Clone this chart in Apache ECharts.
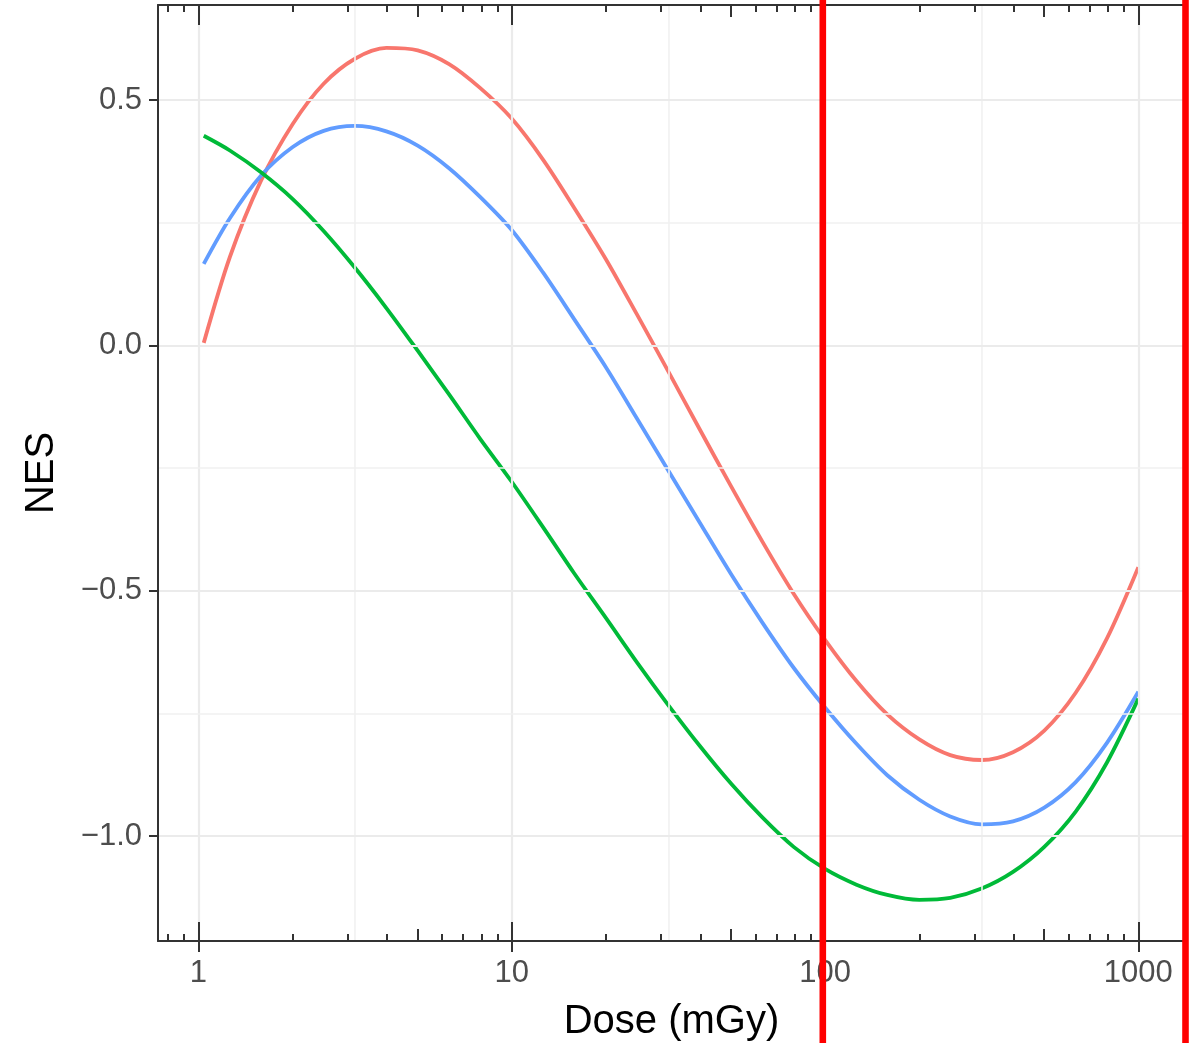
<!DOCTYPE html>
<html>
<head>
<meta charset="utf-8">
<script src="https://cdn.jsdelivr.net/npm/echarts@6/dist/echarts.min.js"></script>
<style>
  html, body { margin: 0; padding: 0; background: #ffffff; }
  #chart { width: 1199px; height: 1043px; }
</style>
</head>
<body>
<div id="chart"></div>
<script>
// ---- data ----
const doseValues = [1.04, 1.26, 1.58, 2.0, 2.51, 3.16, 3.98, 5.01, 6.31, 7.94, 10, 12.6, 15.8, 20.0, 25.1, 31.6, 39.8, 50.1, 63.1, 79.4, 100, 126, 158, 200, 251, 316, 398, 501, 631, 794, 1000];
const redNES   = [0.005, 0.180, 0.334, 0.451, 0.533, 0.584, 0.606, 0.601, 0.573, 0.524, 0.462, 0.378, 0.281, 0.175, 0.063, -0.053, -0.171, -0.287, -0.400, -0.506, -0.600, -0.684, -0.752, -0.803, -0.835, -0.845, -0.829, -0.785, -0.708, -0.597, -0.452];
const blueNES  = [0.166, 0.259, 0.345, 0.404, 0.437, 0.447, 0.436, 0.407, 0.361, 0.302, 0.235, 0.148, 0.054, -0.045, -0.149, -0.255, -0.361, -0.466, -0.565, -0.657, -0.738, -0.812, -0.876, -0.926, -0.960, -0.976, -0.970, -0.942, -0.890, -0.810, -0.706];
const greenNES = [0.427, 0.397, 0.353, 0.298, 0.233, 0.158, 0.076, -0.011, -0.100, -0.191, -0.278, -0.371, -0.464, -0.556, -0.646, -0.733, -0.816, -0.893, -0.962, -1.022, -1.067, -1.099, -1.120, -1.130, -1.126, -1.107, -1.073, -1.022, -0.950, -0.850, -0.720];

const xTickDoses = [1, 10, 100, 1000];
const xTickLabels = ['1', '10', '100', '1000'];
const xMidDoses = [5, 50, 500];
const xMinorDoses = [0.8, 0.9, 2, 3, 4, 6, 7, 8, 9, 20, 30, 40, 60, 70, 80, 90, 200, 300, 400, 600, 700, 800, 900];
const xMinorGridDoses = [3.1623, 31.623, 316.23];
const yTicks = [-1.0, -0.5, 0.0, 0.5];
const yTickLabels = ['\u22121.0', '\u22120.5', '0.0', '0.5'];
const yMinorGrid = [-0.75, -0.25, 0.25];

const xDomainDose = [0.743, 1409];
const yDomain = [-1.2138, 0.6935];

// ---- chart ----
const lg = v => Math.log10(v);
const xMin = lg(xDomainDose[0]), xMax = lg(xDomainDose[1]);
const tickColor = '#333333';
const FONT = '"Liberation Sans", Arial, sans-serif';

function xAxisDef(position, doses, len, inside, extra) {
  return Object.assign({
    type: 'value', gridIndex: 0, position: position, min: xMin, max: xMax, z: 5,
    splitLine: { show: false },
    axisLine: { show: false, onZero: false },
    axisLabel: { show: false },
    axisTick: { show: true, inside: inside, length: len, customValues: doses.map(lg),
                lineStyle: { color: tickColor, width: 2 } }
  }, extra || {});
}

const majorLogs = xTickDoses.map(lg);
const xAxes = [
  xAxisDef('bottom', xTickDoses, 11, false, {
    axisLine: { show: true, onZero: false, lineStyle: { color: tickColor, width: 2 } },
    axisLabel: {
      show: true, customValues: majorLogs, margin: 17,
      fontSize: 31, color: '#4d4d4d', fontFamily: FONT,
      formatter: v => { const i = majorLogs.findIndex(m => Math.abs(m - v) < 1e-6); return i >= 0 ? xTickLabels[i] : ''; }
    },
    name: 'Dose (mGy)', nameLocation: 'middle', nameGap: 61,
    nameTextStyle: { fontSize: 40, color: '#000000', fontFamily: FONT }
  }),
  xAxisDef('bottom', xTickDoses, 19, true),
  xAxisDef('bottom', xMidDoses, 12, true),
  xAxisDef('bottom', xMinorDoses, 7, true),
  xAxisDef('top', xTickDoses, 20, true, {
    axisLine: { show: true, onZero: false, lineStyle: { color: tickColor, width: 2 } }
  }),
  xAxisDef('top', xMidDoses, 12, true),
  xAxisDef('top', xMinorDoses, 7, true)
];

const yAxes = [
  {
    type: 'value', position: 'left', min: yDomain[0], max: yDomain[1], z: 5,
    splitLine: { show: false },
    axisLine: { show: true, onZero: false, lineStyle: { color: tickColor, width: 2 } },
    axisTick: { show: true, inside: false, length: 9, customValues: yTicks, lineStyle: { color: tickColor, width: 2 } },
    axisLabel: {
      show: true, customValues: yTicks, margin: 16, fontSize: 31, color: '#4d4d4d', fontFamily: FONT,
      formatter: v => { const i = yTicks.findIndex(t => Math.abs(t - v) < 1e-6); return i >= 0 ? yTickLabels[i] : ''; }
    },
    name: 'NES', nameLocation: 'middle', nameGap: 96, nameRotate: 90,
    nameTextStyle: { fontSize: 40, color: '#000000', fontFamily: FONT }
  },
  {
    type: 'value', position: 'right', min: yDomain[0], max: yDomain[1], z: 5,
    splitLine: { show: false },
    axisLine: { show: true, onZero: false, lineStyle: { color: tickColor, width: 2 } },
    axisTick: { show: false }, axisLabel: { show: false }
  }
];

const majorGridStyle = { color: '#ebebeb', width: 2.2, type: 'solid' };
const minorGridStyle = { color: '#f1f1f1', width: 1.6, type: 'solid' };
const gridLines = [].concat(
  xTickDoses.map(d => ({ xAxis: lg(d), lineStyle: majorGridStyle })),
  xMinorGridDoses.map(d => ({ xAxis: lg(d), lineStyle: minorGridStyle })),
  yTicks.map(v => ({ yAxis: v, lineStyle: majorGridStyle })),
  yMinorGrid.map(v => ({ yAxis: v, lineStyle: minorGridStyle }))
);

function curve(name, values, color) {
  return {
    name: name, type: 'line', xAxisIndex: 0, yAxisIndex: 0, z: 3,
    data: doseValues.map((d, i) => [lg(d), values[i]]),
    smooth: 0.3, showSymbol: false, symbol: 'none',
    lineStyle: { color: color, width: 3.8, cap: 'butt', join: 'round' }, itemStyle: { color: color }
  };
}

const chart = echarts.init(document.getElementById('chart'), null, { renderer: 'canvas' });
chart.setOption({
  backgroundColor: '#ffffff',
  animation: false,
  grid: { left: 158, right: 14, top: 5, bottom: 102, containLabel: false, outerBoundsMode: 'none' },
  xAxis: xAxes,
  yAxis: yAxes,
  series: [
    {
      name: 'grid', type: 'line', xAxisIndex: 0, yAxisIndex: 0, z: 1, data: [],
      markLine: { silent: true, symbol: ['none', 'none'], label: { show: false }, animation: false, data: gridLines }
    },
    curve('red', redNES, '#F8766D'),
    curve('blue', blueNES, '#619CFF'),
    curve('green', greenNES, '#00BA38')
  ],
  graphic: [
    { type: 'rect', shape: { x: 819.5, y: 0, width: 6.6, height: 1043 }, style: { fill: '#ff0000' }, z: 100 },
    { type: 'rect', shape: { x: 1182.2, y: 0, width: 6.6, height: 1043 }, style: { fill: '#ff0000' }, z: 100 }
  ]
});
</script>
</body>
</html>
